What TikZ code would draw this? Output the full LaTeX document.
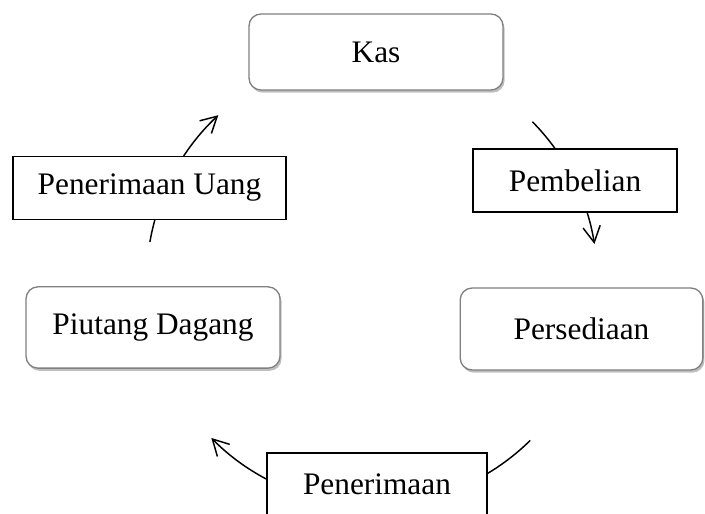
\documentclass[tikz,border=0pt]{standalone}
\usepackage{fontspec}
\setmainfont{Liberation Serif}
\usetikzlibrary{arrows.meta,shadows,calc}
\definecolor{boxline}{HTML}{808080}

\begin{document}
\begin{tikzpicture}[x=0.75pt, y=0.75pt,
  stage/.style={draw=boxline, line width=1pt, fill=white, rounded corners=9pt,
                drop shadow={shadow xshift=1.2pt, shadow yshift=-2pt, opacity=0.5},
                minimum width=190.5pt, minimum height=57pt, inner sep=0pt,
                font=\fontsize{23.5}{28}\selectfont},
  flow/.style={draw=black, line width=1.1pt, fill=white, inner sep=0pt,
               minimum height=47pt, font=\fontsize{23.5}{28}\selectfont},
  arr/.style={line width=1.1pt, -{Straight Barb[length=12pt, width=13pt]}}]
  \clip (0,0) rectangle (705,513);
  % siklus
  \node[stage] (kas) at (376,461) {Kas};
  \node[stage, minimum width=182pt, minimum height=61.5pt] (stock) at (581.5,184) {Persediaan};
  \node[stage, minimum height=61pt] (recv) at (153,185.5) {Piutang Dagang};
  \coordinate (hub) at (372,233);
  \coordinate (buyA) at ([shift={(44.6:169pt)}]hub);
  \coordinate (saleA) at ([shift={(-45.4:169pt)}]hub);
  \coordinate (cashA) at ([shift={(170.3:169pt)}]hub);
  \draw[arr] (buyA) arc[start angle=44.6, end angle=9.2, radius=169pt];
  \draw[arr] (saleA) arc[start angle=-45.4, end angle=-135.5, radius=169pt];
  \draw[arr] (cashA) arc[start angle=170.3, end angle=133, radius=169pt];
  % label panah
  \node[flow, minimum width=153pt] (buy) at (575,332.5) {Pembelian};
  \node[flow, minimum width=204.75pt] (cash) at (149.5,325) {Penerimaan Uang};
  \node[flow, minimum width=165pt] (sale) at (377,28.5) {Penerimaan};
\end{tikzpicture}
\end{document}
